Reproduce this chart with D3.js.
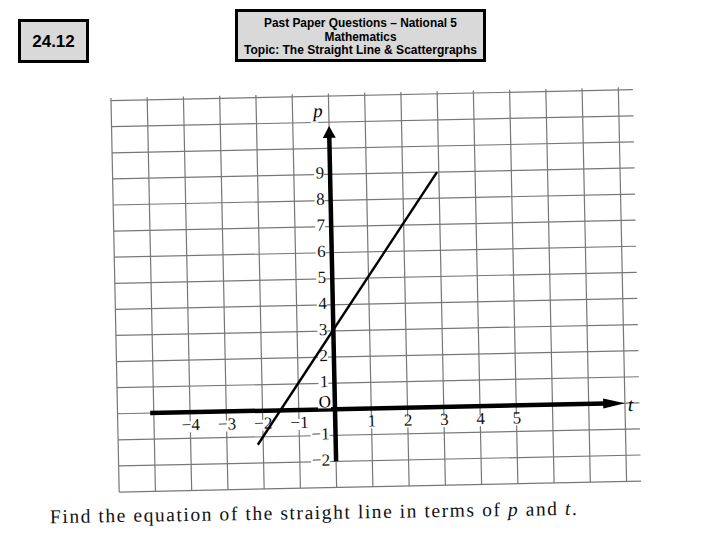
<!DOCTYPE html>
<html>
<head>
<meta charset="utf-8">
<script src="https://cdn.jsdelivr.net/npm/d3@7"></script>
<style>
  body { margin: 0; background: #fff; }
  svg { display: block; }
</style>
</head>
<body>
<div id="chart"></div>
<script>
// valores
const gridT = [-6, -5, -4, -3, -2, -1, 0, 1, 2, 3, 4, 5, 6, 7, 8];
const gridP = [-3, -2, -1, 0, 1, 2, 3, 4, 5, 6, 7, 8, 9, 10, 11, 12];
const tTicks = [-4, -3, -2, -1, 1, 2, 3, 4, 5];
const pTicks = [-2, -1, 1, 2, 3, 4, 5, 6, 7, 8, 9];
const lineT = [-2.15, 2.95];
const lineP = [-1.3, 9.0];
const titleLines = ['Past Paper Questions \u2013 National 5', 'Mathematics', 'Topic: The Straight Line & Scattergraphs'];

const width = 720, height = 540;

let svg = d3.select('#chart').append('svg')
    .attr('width', width)
    .attr('height', height);

// cabecera
svg.append('rect')
    .attr('x', 19.5).attr('y', 20.5).attr('width', 68).attr('height', 41)
    .attr('fill', '#d9d9d9').attr('stroke', '#000').attr('stroke-width', 3);
svg.append('text')
    .attr('x', 53.5).attr('y', 47)
    .attr('text-anchor', 'middle')
    .style('font-family', 'Liberation Sans, Arial, sans-serif')
    .style('font-weight', 'bold')
    .style('font-size', '17px')
    .text('24.12');

svg.append('rect')
    .attr('x', 236.5).attr('y', 10.5).attr('width', 248).attr('height', 50)
    .attr('fill', '#d9d9d9').attr('stroke', '#000').attr('stroke-width', 3);
const titleW = [193, 72, 233];
svg.selectAll('.title')
    .data(titleLines)
    .enter().append('text')
    .attr('class', 'title')
    .attr('x', 360.5)
    .attr('y', (d, i) => 27 + i * 13.6)
    .attr('text-anchor', 'middle')
    .attr('textLength', (d, i) => titleW[i])
    .attr('lengthAdjust', 'spacingAndGlyphs')
    .style('font-family', 'Liberation Sans Narrow, Arial Narrow, Liberation Sans, sans-serif')
    .style('font-weight', 'bold')
    .style('font-size', '12.5px')
    .text(d => d);

// grafico
let x = d3.scaleLinear().domain([-6, 8]).range([117.5, 625]);
let y = d3.scaleLinear().domain([-3, 12]).range([487.5, 96]);

let g = svg.append('g')
    .attr('transform', 'rotate(-1.2,' + x(0) + ',' + y(0) + ')');

// cuadricula
g.selectAll('.vgrid')
    .data(gridT)
    .enter().append('line')
    .attr('x1', d => x(d)).attr('x2', d => x(d))
    .attr('y1', y(-3)).attr('y2', y(12.1))
    .attr('stroke', '#777').attr('stroke-width', 1.2);

g.selectAll('.hgrid')
    .data(gridP)
    .enter().append('line')
    .attr('x1', x(-6)).attr('x2', x(8.4))
    .attr('y1', d => y(d)).attr('y2', d => y(d))
    .attr('stroke', '#777').attr('stroke-width', 1.2);

// huecos blancos detras de las etiquetas
g.selectAll('.pbg')
    .data(pTicks)
    .enter().append('rect')
    .attr('x', d => x(0) - 6 - (d < 0 ? 19 : 10))
    .attr('y', d => y(d) - 8)
    .attr('width', d => d < 0 ? 19 : 10)
    .attr('height', 12)
    .attr('fill', '#fff');
g.selectAll('.tbg')
    .data(tTicks)
    .enter().append('rect')
    .attr('x', d => x(d) - (d < 0 ? 10 : 5))
    .attr('y', y(0) + 9)
    .attr('width', d => d < 0 ? 20 : 10)
    .attr('height', 11)
    .attr('fill', '#fff');

// ejes
g.append('line')
    .attr('x1', x(0)).attr('x2', x(0))
    .attr('y1', y(-2)).attr('y2', y(10.5))
    .attr('stroke', '#000').attr('stroke-width', 4.5);
g.append('path')
    .attr('d', 'M' + x(0) + ',' + y(10.85) + 'L' + (x(0) - 6.5) + ',' + y(10.4) + 'L' + (x(0) + 6.5) + ',' + y(10.4) + 'Z')
    .attr('fill', '#000');

g.append('line')
    .attr('x1', x(-5.1)).attr('x2', x(7.45))
    .attr('y1', y(0)).attr('y2', y(0))
    .attr('stroke', '#000').attr('stroke-width', 4.5);
g.append('path')
    .attr('d', 'M' + x(8) + ',' + y(0) + 'L' + x(7.4) + ',' + (y(0) - 5) + 'L' + x(7.4) + ',' + (y(0) + 5) + 'Z')
    .attr('fill', '#000');

// etiquetas de los ejes
let xAxis = g.append('g')
    .attr('transform', 'translate(0,' + (y(0) + 3) + ')')
    .call(d3.axisBottom(x).tickValues(tTicks).tickSize(0).tickPadding(3)
        .tickFormat(d => d < 0 ? '\u2212' + Math.abs(d) : d));
let yAxis = g.append('g')
    .attr('transform', 'translate(' + (x(0) - 6) + ',-2)')
    .call(d3.axisLeft(y).tickValues(pTicks).tickSize(0).tickPadding(0)
        .tickFormat(d => d < 0 ? '\u2212' + Math.abs(d) : d));
[xAxis, yAxis].forEach(a => {
    a.select('.domain').remove();
    a.selectAll('text')
        .style('font-family', 'Liberation Serif, Times New Roman, serif')
        .style('font-size', '17px')
        .attr('fill', '#111');
});

g.append('rect')
    .attr('x', x(0) - 17).attr('y', y(0) - 12)
    .attr('width', 13).attr('height', 11)
    .attr('fill', '#fff');
g.append('text')
    .attr('x', x(0) - 10).attr('y', y(0) - 2)
    .attr('text-anchor', 'middle')
    .style('font-family', 'Liberation Serif, serif')
    .style('font-size', '17px')
    .text('O');
g.append('text')
    .attr('x', x(0) - 11).attr('y', y(11.35) + 4)
    .attr('text-anchor', 'middle')
    .style('font-family', 'Liberation Serif, serif')
    .style('font-style', 'italic')
    .style('font-size', '19px')
    .style('paint-order', 'stroke')
    .attr('stroke', '#fff').attr('stroke-width', 3)
    .text('p');
g.append('text')
    .attr('x', x(8.15)).attr('y', y(0) + 8)
    .attr('text-anchor', 'middle')
    .style('font-family', 'Liberation Serif, serif')
    .style('font-style', 'italic')
    .style('font-size', '19px')
    .text('t');

// recta
g.append('line')
    .attr('x1', x(lineT[0])).attr('y1', y(lineP[0]))
    .attr('x2', x(lineT[1])).attr('y2', y(lineP[1]))
    .attr('stroke', '#000').attr('stroke-width', 2.4);

// enunciado
let q = svg.append('text')
    .attr('x', 50).attr('y', 519)
    .attr('textLength', 527)
    .attr('lengthAdjust', 'spacing')
    .attr('transform', 'rotate(-0.9,313,519)')
    .style('font-family', 'Liberation Serif, Times New Roman, serif')
    .style('font-size', '19.5px')
    .attr('fill', '#111');
q.append('tspan').text('Find the equation of the straight line in terms of ');
q.append('tspan').style('font-style', 'italic').text('p');
q.append('tspan').text(' and ');
q.append('tspan').style('font-style', 'italic').text('t');
q.append('tspan').text('.');
</script>
</body>
</html>
